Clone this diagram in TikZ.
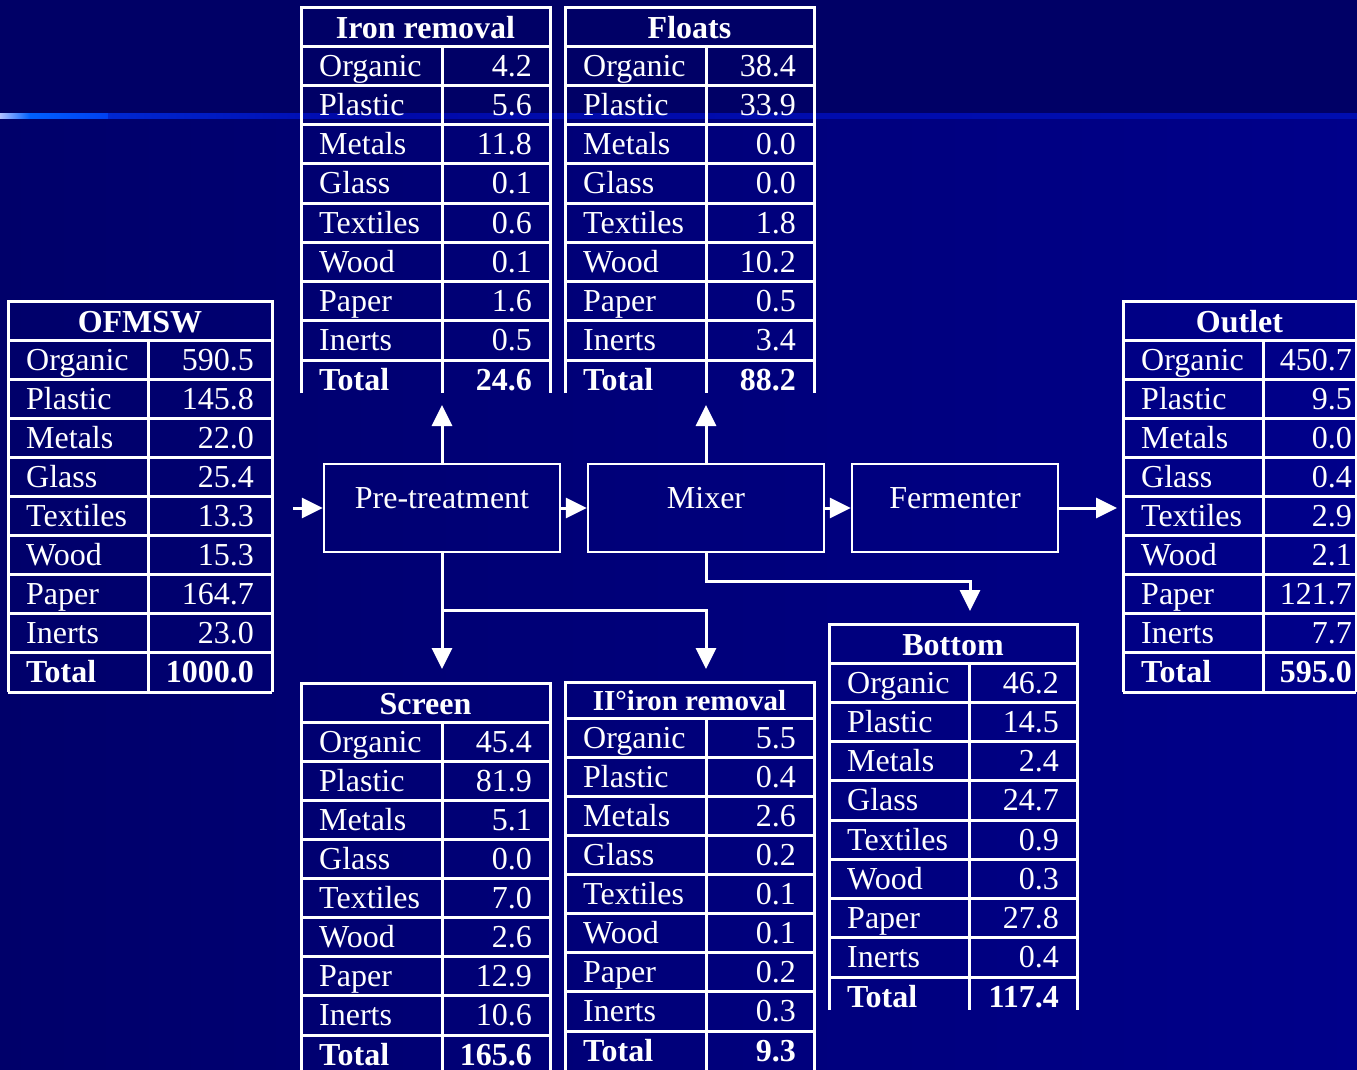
\documentclass[tikz,border=0pt]{standalone}
\usepackage{fontspec}
\setmainfont{Liberation Serif}
\usetikzlibrary{arrows.meta}
\definecolor{topbg}{RGB}{0,0,102}
\definecolor{botbgL}{RGB}{0,0,106}
\definecolor{botbgR}{RGB}{0,0,138}
\newcommand\rowlab[1]{\ifcase#1\or Organic\or Plastic\or Metals\or Glass\or Textiles\or Wood\or Paper\or Inerts\or Total\fi}
\def\tpad{18}
\newcommand\mtab[9]{\def\tabname{#1}\def\tabtitle{#2}\def\txl{#3}\def\txm{#4}\def\txr{#5}\def\tyt{#6}\def\tyh{#7}\def\trh{#8}\def\tye{#9}\mtabvals}
\newcommand\mtabvals[1]{%
  \draw[tabline] (\txl,\tye) -- (\txl,\tyt) -- (\txr,\tyt) -- (\txr,\tye);
  \draw[tabline] (\txl,\tyh) -- (\txr,\tyh);
  \draw[tabline] (\txm,\tyh) -- (\txm,\tye);
  \foreach \k in {1,...,8} \draw[tabline] (\txl,{\tyh+\k*\trh}) -- (\txr,{\tyh+\k*\trh});
  \node[hdr, anchor=base] (\tabname-t) at ({(\txl+\txr)/2},{\tyh-8}) {\tabtitle};
  \foreach \v [count=\i] in {#1} {
    \pgfmathsetmacro\yb{\tyh+(\i-1)*\trh+30}
    \node[cell, anchor=base west] (\tabname-l\i) at ({\txl+18},\yb) {\ifnum\i=9 \bfseries\fi\rowlab{\i}};
    \node[cell, anchor=base east] (\tabname-v\i) at ({\txr-\tpad},\yb) {\ifnum\i=9 \bfseries\fi\v};
  }
}
\tikzset{
  tabline/.style={draw=white, line width=3pt},
  cell/.style={text=white, inner sep=0pt, font=\fontsize{32}{38}\selectfont},
  hdr/.style={text=white, inner sep=0pt, font=\fontsize{32}{38}\selectfont\bfseries},
  procbox/.style={draw=white, line width=2.5pt, text=white, minimum height=88pt, inner sep=0pt,
    text height=22pt, text depth=22pt, font=\fontsize{32}{38}\selectfont},
  flow/.style={draw=white, line width=3pt, -{Triangle[length=21pt,width=20pt]}},
  plainline/.style={draw=white, line width=3pt}
}
\begin{document}
\begin{tikzpicture}[x=1pt,y=-1pt]
\useasboundingbox (0,0) rectangle (1357,1069);
% background
\fill[topbg] (0,0) rectangle (1357,116);
\shade[left color=botbgL, right color=botbgR] (0,115) rectangle (1357,1069);
\shade[left color={rgb,255:red,176;green,192;blue,255}, right color={rgb,255:red,0;green,96;blue,255}] (0,113) rectangle (30,118);
\shade[left color={rgb,255:red,0;green,96;blue,255}, right color={rgb,255:red,0;green,64;blue,240}] (30,113) rectangle (108,118);
\shade[left color={rgb,255:red,0;green,40;blue,210}, right color={rgb,255:red,0;green,12;blue,176}] (108,113) rectangle (330,118);
\shade[left color={rgb,255:red,0;green,10;blue,170}, right color={rgb,255:red,0;green,14;blue,176}] (330,113) rectangle (1357,118);

% process boxes
\node[procbox, minimum width=236pt] (pre) at (442,508) {Pre-treatment};
\node[procbox, minimum width=236pt] (mix) at (706,508) {Mixer};
\node[procbox, minimum width=206pt] (ferm) at (955,508) {Fermenter};

% tables
\mtab{ofmsw}{OFMSW}{8}{148}{272}{301}{340}{39}{692}{590.5,145.8,22.0,25.4,13.3,15.3,164.7,23.0,1000.0}
\draw[tabline] (8,692) -- (272,692);
\mtab{iron}{Iron removal}{301}{442}{550}{7}{46}{39.25}{393}{4.2,5.6,11.8,0.1,0.6,0.1,1.6,0.5,24.6}
\mtab{floats}{Floats}{565}{706}{814}{7}{46}{39.25}{393}{38.4,33.9,0.0,0.0,1.8,10.2,0.5,3.4,88.2}
\mtab{screen}{Screen}{301}{442}{550}{683}{722}{39.125}{1075}{45.4,81.9,5.1,0.0,7.0,2.6,12.9,10.6,165.6}
\mtab{iiiron}{{\fontsize{29}{34}\selectfont II°iron removal}}{565}{706}{814}{682}{718}{39.125}{1075}{5.5,0.4,2.6,0.2,0.1,0.1,0.2,0.3,9.3}
\mtab{bottom}{Bottom}{829}{969}{1077}{624}{663}{39.25}{1010}{46.2,14.5,2.4,24.7,0.9,0.3,27.8,0.4,117.4}
{\def\tpad{4}
\mtab{outlet}{Outlet}{1123}{1263}{1356}{301}{340}{39}{692}{450.7,9.5,0.0,0.4,2.9,2.1,121.7,7.7,595.0}
\draw[tabline] (1123,692) -- (1356,692);
}

% connector ends
\coordinate (feed) at (293,508);
\coordinate (irontip) at (442,405);
\coordinate (floattip) at (706,405);
\coordinate (screentip) at (442,669);
\coordinate (split) at (442,610);
\coordinate (iitip) at (706,669);
\coordinate (mixturn) at (970,581);
\coordinate (bottip) at (970,611);
\coordinate (outtip) at (1117,508);

% connectors
\draw[flow] (feed) -- (pre.west);
\draw[flow] (pre.east) -- (mix.west);
\draw[flow] (mix.east) -- (ferm.west);
\draw[flow] (ferm.east) -- (outtip);
\draw[flow] (pre.north) -- (irontip);
\draw[flow] (mix.north) -- (floattip);
\draw[flow] (pre.south) -- (screentip);
\draw[flow] (split) -| (iitip);
\draw[flow] (mix.south) |- (mixturn) -- (bottip);
\end{tikzpicture}
\end{document}
